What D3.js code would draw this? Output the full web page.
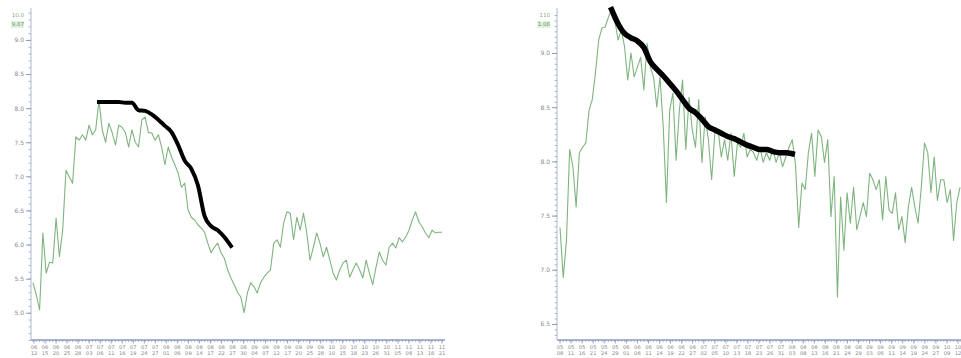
<!DOCTYPE html>
<html>
<head>
<meta charset="utf-8">
<script src="https://cdn.jsdelivr.net/npm/d3@7"></script>
<style>
  body { margin: 0; background: #fff; }
  svg { display: block; }
  text { font-family: "DejaVu Sans", sans-serif; }
</style>
</head>
<body>
<svg id="chart" width="961" height="358"></svg>
<script>
// ---- Left panel: daily closing price and the drawn trend line ----
const leftPrice = [
  5.44, 5.26, 5.04, 6.17, 5.58, 5.74, 5.73, 6.39, 5.82, 6.21,
  7.09, 6.99, 6.90, 7.58, 7.53, 7.61, 7.53, 7.75, 7.61, 7.68,
  8.11, 7.68, 7.50, 7.78, 7.64, 7.46, 7.75, 7.72, 7.64, 7.43,
  7.68, 7.50, 7.43, 7.83, 7.87, 7.64, 7.64, 7.53, 7.61, 7.43,
  7.17, 7.43, 7.28, 7.17, 7.05, 6.84, 6.90, 6.51, 6.40, 6.36,
  6.29, 6.24, 6.18, 6.02, 5.88, 5.96, 6.02, 5.88, 5.80, 5.63,
  5.51, 5.41, 5.30, 5.23, 5.00, 5.29, 5.44, 5.38, 5.29, 5.44,
  5.52, 5.58, 5.63, 6.02, 6.07, 5.96, 6.32, 6.48, 6.46, 6.07,
  6.40, 6.21, 6.46, 6.17, 5.77, 5.96, 6.17, 6.02, 5.82, 5.96,
  5.77, 5.58, 5.48, 5.63, 5.73, 5.77, 5.52, 5.63, 5.73, 5.63,
  5.51, 5.77, 5.58, 5.41, 5.67, 5.89, 5.77, 5.70, 5.96, 6.02,
  5.95, 6.10, 6.04, 6.11, 6.21, 6.36, 6.48, 6.33, 6.26, 6.17,
  6.10, 6.21, 6.17, 6.18, 6.18
];
const leftTrendDays = [20, 22, 24, 26, 28, 30, 32, 34, 36, 38, 40,
                       42, 44, 46, 48, 50, 52, 54, 56, 58, 60];
const leftTrend = [8.09, 8.09, 8.09, 8.09, 8.08, 8.08, 7.97, 7.96, 7.91, 7.83, 7.74,
                   7.65, 7.46, 7.23, 7.11, 6.87, 6.42, 6.27, 6.21, 6.11, 5.98];
const leftYTicks = [9.0, 8.5, 8.0, 7.5, 7.0, 6.5, 6.0, 5.5, 5.0];
const leftDates = [
  "06/12","06/15","06/20","06/25","06/28","07/03","07/06","07/11","07/16","07/19",
  "07/24","07/27","08/01","08/06","08/09","08/14","08/17","08/22","08/27","08/30",
  "09/04","09/07","09/12","09/17","09/20","09/25","09/28","10/10","10/15","10/18",
  "10/23","10/26","10/31","11/05","11/08","11/13","11/16","11/21"
];
const leftTopLabels = ["10.0", "9.87"];

// ---- Right panel ----
const rightPrice = [
  7.39, 6.93, 7.27, 8.11, 7.95, 7.58, 8.08, 8.13, 8.17, 8.47,
  8.57, 8.82, 9.12, 9.23, 9.24, 9.33, 9.40, 9.30, 9.12, 9.21,
  9.06, 8.75, 9.00, 8.78, 8.87, 8.96, 8.66, 9.09, 8.87, 8.78,
  8.50, 8.78, 8.32, 7.62, 8.47, 8.63, 8.01, 8.47, 8.75, 8.11,
  8.59, 8.29, 8.13, 8.57, 7.99, 8.41, 8.20, 7.83, 8.26, 8.29,
  8.04, 8.20, 8.01, 8.26, 7.86, 8.17, 8.13, 8.26, 8.04, 8.11,
  8.08, 8.01, 8.13, 7.99, 8.08, 8.01, 8.11, 7.99, 8.08, 7.95,
  8.04, 8.13, 8.20, 7.97, 7.39, 7.80, 7.74, 8.08, 8.26, 7.86,
  8.29, 8.23, 7.99, 8.20, 7.49, 7.86, 6.75, 7.67, 7.18, 7.71,
  7.43, 7.76, 7.37, 7.49, 7.62, 7.49, 7.89, 7.83, 7.74, 7.83,
  7.46, 7.86, 7.55, 7.52, 7.71, 7.37, 7.49, 7.25, 7.58, 7.76,
  7.58, 7.43, 7.76, 8.17, 8.08, 7.71, 8.04, 7.64, 7.83, 7.83,
  7.62, 7.74, 7.27, 7.62, 7.76
];
const rightTrendDays = [16, 18, 20, 22, 24, 26, 28, 30, 32, 34, 36, 38, 40, 42, 44,
                        46, 48, 50, 52, 54, 56, 58, 60, 62, 64, 66, 68, 70, 72];
const rightTrend = [9.40, 9.27, 9.18, 9.14, 9.11, 9.05, 8.92, 8.85, 8.79, 8.72, 8.65,
                    8.57, 8.49, 8.45, 8.39, 8.32, 8.29, 8.26, 8.23, 8.21, 8.18, 8.15,
                    8.13, 8.11, 8.11, 8.09, 8.08, 8.08, 8.07];
const rightYTicks = [9.0, 8.5, 8.0, 7.5, 7.0, 6.5];
const rightDates = [
  "05/08","05/11","05/16","05/21","05/24","05/29","06/01","06/06","06/11","06/14",
  "06/19","06/22","06/27","07/02","07/05","07/10","07/13","07/18","07/23","07/26",
  "07/31","08/03","08/08","08/13","08/16","08/21","08/24","08/29","09/03","09/06",
  "09/11","09/14","09/19","09/24","09/27","10/09","10/12"
];
const rightTopLabels = ["110", "1.08"];

const svg = d3.select("#chart");
svg.append("rect").attr("width", 961).attr("height", 358).attr("fill", "#fff");

const AXIS = "#8c9bbd";
const LABEL = "#8a8a8a";
const GREEN = "#7fb47f";

function panel(cfg) {
  const g = svg.append("g");
  const x = d3.scaleLinear().domain([0, cfg.price.length - 1]).range(cfg.xRange);
  const y = d3.scaleLinear().domain(cfg.yDomain).range([340, 12]);

  // x axis: one small tick per trading day, labelled ticks spread along the axis
  const xAxisG = g.append("g").attr("transform", "translate(0,340)");
  xAxisG.append("line")
    .attr("x1", cfg.axisX).attr("x2", cfg.axisEnd)
    .attr("stroke", AXIS).attr("stroke-width", 1.5);
  xAxisG.selectAll("line.day")
    .data(d3.range(cfg.price.length))
    .join("line").attr("class", "day")
    .attr("x1", d => x(d)).attr("x2", d => x(d))
    .attr("y1", 0).attr("y2", 2)
    .attr("stroke", AXIS).attr("stroke-width", 0.7);
  const xp = d3.scalePoint().domain(cfg.dates).range([cfg.axisX + 3, cfg.axisEnd - 3]);
  const lab = xAxisG.selectAll("g.lab").data(cfg.dates).join("g").attr("class", "lab")
    .attr("transform", d => `translate(${xp(d)},0)`);
  lab.append("line").attr("y1", 0).attr("y2", 3.5).attr("stroke", AXIS).attr("stroke-width", 0.9);
  const t = lab.append("text").attr("text-anchor", "middle")
    .attr("font-size", 5.2).attr("fill", LABEL);
  t.append("tspan").attr("x", 0).attr("y", 8.5).text(d => d.split("/")[0]);
  t.append("tspan").attr("x", 0).attr("y", 15).text(d => d.split("/")[1]);

  // y axis with dense minor ticks
  const yAxisG = g.append("g").attr("transform", `translate(${cfg.axisX},0)`);
  yAxisG.append("line").attr("y1", 8).attr("y2", 340)
    .attr("stroke", AXIS).attr("stroke-width", 1.6);
  yAxisG.call(d3.axisLeft(y).tickValues(y.ticks(60)).tickSize(2.5).tickFormat(""))
    .call(a => a.select(".domain").remove())
    .call(a => a.selectAll("line").attr("stroke", AXIS).attr("stroke-width", 0.7));
  const major = g.append("g").attr("transform", `translate(${cfg.axisX},0)`)
    .call(d3.axisLeft(y).tickValues(cfg.yTicks).tickSize(5).tickPadding(2).tickFormat(d3.format(".1f")));
  major.select(".domain").remove();
  major.selectAll("line").attr("stroke", AXIS).attr("stroke-width", 1);
  major.selectAll("text").attr("font-size", 6).attr("fill", LABEL)
    .attr("font-family", "DejaVu Sans, sans-serif");

  // small green value labels at the top of the axis
  g.selectAll("text.top").data(cfg.topLabels).join("text").attr("class", "top")
    .attr("x", cfg.axisX - 7).attr("y", (d, i) => 17 + i * 9)
    .attr("text-anchor", "end").attr("font-size", 5.5)
    .attr("fill", (d, i) => i === 0 ? "#8aa88a" : "#5f9a5f")
    .text(d => d);
  g.append("rect")
    .attr("x", cfg.axisX - 20).attr("y", 21).attr("width", 13).attr("height", 7)
    .attr("fill", "#cfe8cf").attr("opacity", 0.6).lower();

  // price line
  const line = d3.line().x((d, i) => x(i)).y(d => y(d));
  g.append("path").datum(cfg.price)
    .attr("d", line).attr("fill", "none")
    .attr("stroke", GREEN).attr("stroke-width", 1.1).attr("stroke-linejoin", "round");

  // trend line drawn over the price
  const tline = d3.line().curve(d3.curveMonotoneX)
    .x((d, i) => x(cfg.trendDays[i])).y(d => y(d));
  g.append("path").datum(cfg.trend)
    .attr("d", tline).attr("fill", "none")
    .attr("stroke", "#000").attr("stroke-width", cfg.trendWidth)
    .attr("stroke-linejoin", "round").attr("stroke-linecap", "square");
}

panel({
  price: leftPrice, trend: leftTrend, trendDays: leftTrendDays,
  xRange: [33, 442], yDomain: [4.60, 9.41], yTicks: leftYTicks,
  axisX: 31, axisEnd: 445, dates: leftDates, topLabels: leftTopLabels, trendWidth: 4
});
panel({
  price: rightPrice, trend: rightTrend, trendDays: rightTrendDays,
  xRange: [560, 960], yDomain: [6.352, 9.378], yTicks: rightYTicks,
  axisX: 557, axisEnd: 961, dates: rightDates, topLabels: rightTopLabels, trendWidth: 5.5
});
</script>
</body>
</html>
